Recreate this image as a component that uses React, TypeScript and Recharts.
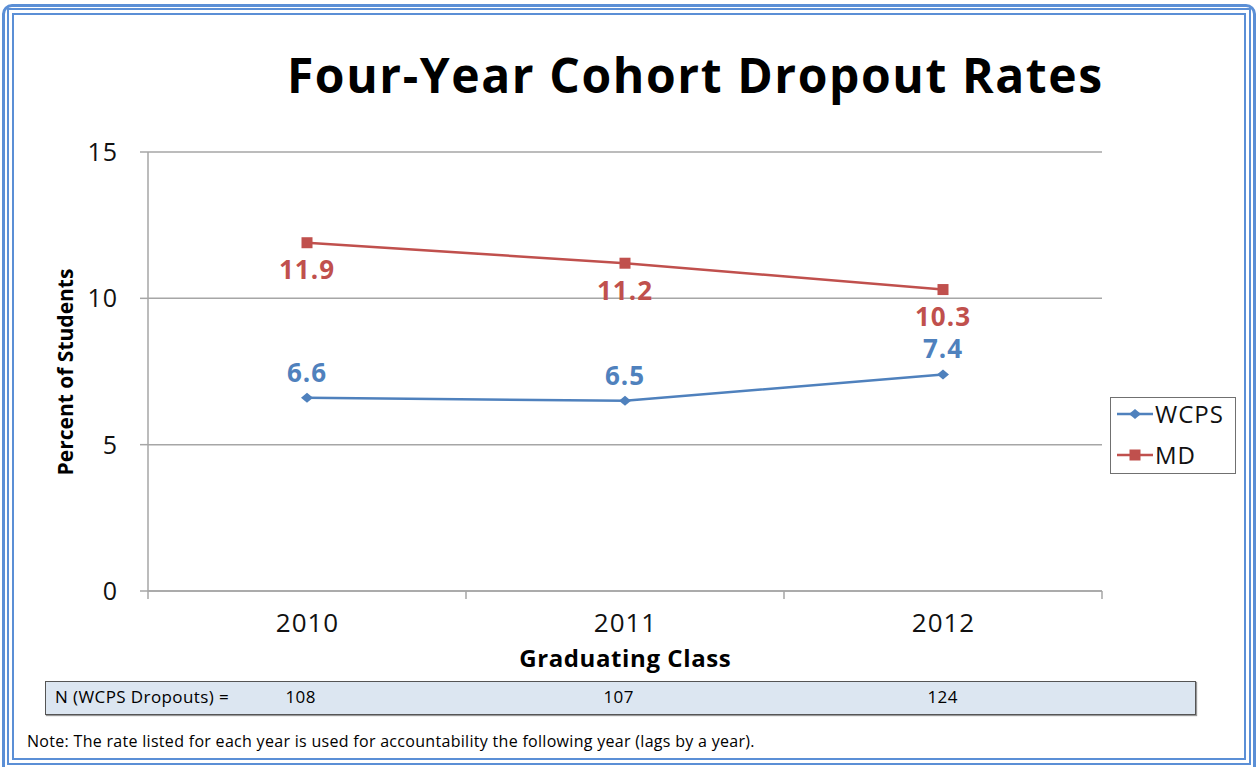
import React from 'react';
import { LineChart, Line, XAxis, YAxis, CartesianGrid, LabelList, Legend, Label } from 'recharts';

const categories = ['2010', '2011', '2012'];
const wcpsRates = [6.6, 6.5, 7.4];
const mdRates = [11.9, 11.2, 10.3];
const yTicks = [0, 5, 10, 15];
const dropoutCounts = [108, 107, 124];
const seriesNames = ['WCPS', 'MD'];

const data = categories.map((c, i) => ({ year: c, WCPS: wcpsRates[i], MD: mdRates[i] }));

const W = 1257;
const H = 767;
const PLOT_L = 148;
const PLOT_R = 1102;
const PLOT_T = 152;
const PLOT_B = 591;
const YAXIS_W = 60;
const XAXIS_H = 30;
const BLUE = '#4F81BD';
const RED = '#C0504D';
const GRID = '#A6A6A6';
const FRAME = '#5B8FD6';
const FONT = '"Open Sans", Lato, sans-serif';
const HALF_BAND = (PLOT_R - PLOT_L) / categories.length / 2;
const COLORS: Record<string, string> = { WCPS: BLUE, MD: RED };

const XTick = (props: any) => {
  const { x, payload, index } = props;
  return (
    <g>
      {index === 0 && (
        <line x1={x - HALF_BAND} x2={x - HALF_BAND} y1={PLOT_B} y2={PLOT_B + 8} stroke={GRID} strokeWidth={1.5} />
      )}
      <line x1={x + HALF_BAND} x2={x + HALF_BAND} y1={PLOT_B} y2={PLOT_B + 8} stroke={GRID} strokeWidth={1.5} />
      <text x={x + 0.5} y={PLOT_B + 41} textAnchor="middle" fontSize={26} letterSpacing={1} fontFamily={FONT} fill="#111">
        {payload.value}
      </text>
    </g>
  );
};

const Diamond = (p: any) => {
  const { cx, cy } = p;
  return <path d={`M${cx - 6},${cy} L${cx},${cy - 5} L${cx + 6},${cy} L${cx},${cy + 5} Z`} fill={BLUE} />;
};
const Square = (p: any) => {
  const { cx, cy } = p;
  return <rect x={cx - 5.5} y={cy - 5.5} width={11} height={11} fill={RED} />;
};

const LegendBox = () => (
  <div
    style={{
      position: 'relative',
      width: 126,
      height: 77,
      border: '1.5px solid #707070',
      background: '#fff',
      boxSizing: 'border-box',
      fontFamily: FONT,
    }}
  >
    {seriesNames.map((name, i) => (
      <div
        key={name}
        style={{ position: 'absolute', left: 6, top: i === 0 ? 0.5 : 41.5, display: 'flex', alignItems: 'center', height: 30 }}
      >
        <svg width={36} height={14} style={{ flex: 'none' }}>
          <line x1={0} x2={36} y1={7} y2={7} stroke={COLORS[name]} strokeWidth={2.5} />
          {name === 'WCPS' ? (
            <path d="M12,7 L18,2 L24,7 L18,12 Z" fill={BLUE} />
          ) : (
            <rect x={12.5} y={1.5} width={11} height={11} fill={RED} />
          )}
        </svg>
        <span style={{ fontSize: 24, letterSpacing: 1, marginLeft: 2, color: '#111', lineHeight: '30px' }}>{name}</span>
      </div>
    ))}
  </div>
);

export default function App() {
  return (
    <div style={{ position: 'absolute', left: 0, top: 0, width: W, height: H, background: '#fff', overflow: 'hidden', fontFamily: FONT }}>
      {/* frame */}
      <div style={{ position: 'absolute', left: 2, top: 4, width: 1254, height: H + 10, border: `3px solid ${FRAME}`, borderRadius: 10, boxSizing: 'border-box' }} />
      <div style={{ position: 'absolute', left: 7, top: 8, width: 1244, height: 757, border: `7px double ${FRAME}`, boxSizing: 'border-box' }} />

      {/* title */}
      <div style={{ position: 'absolute', left: 0, width: 1389, top: 44.5, paddingLeft: 1.6, boxSizing: 'border-box', textAlign: 'center', fontSize: 48, letterSpacing: 1.6, fontWeight: 700, color: '#000', lineHeight: '60px', whiteSpace: 'nowrap' }}>
        Four-Year Cohort Dropout Rates
      </div>

      <div style={{ position: 'absolute', left: 0, top: 0 }}>
        <LineChart
          width={W}
          height={H}
          data={data}
          margin={{ top: PLOT_T, right: W - PLOT_R, bottom: H - PLOT_B - XAXIS_H, left: PLOT_L - YAXIS_W }}
        >
          <CartesianGrid vertical={false} stroke={GRID} strokeWidth={1.5} />
          <YAxis
            width={YAXIS_W}
            domain={[0, 15]}
            ticks={yTicks}
            interval={0}
            axisLine={{ stroke: GRID, strokeWidth: 1.5 }}
            tickLine={{ stroke: GRID, strokeWidth: 1.5 }}
            tickSize={8}
            tickMargin={22}
            tick={{ fontSize: 25, fill: '#111', fontFamily: FONT, letterSpacing: 1 }}
          >
            <Label
              content={() => (
                <text
                  transform={`translate(73,372) rotate(-90)`}
                  textAnchor="middle"
                  fontSize={21}
                  fontWeight={700}
                  fontFamily={FONT}
                  fill="#000"
                >
                  Percent of Students
                </text>
              )}
            />
          </YAxis>
          <XAxis
            dataKey="year"
            height={XAXIS_H}
            interval={0}
            padding={{ left: HALF_BAND, right: HALF_BAND }}
            axisLine={{ stroke: GRID, strokeWidth: 1.5 }}
            tickLine={false}
            tickSize={0}
            tick={<XTick />}
          >
            <Label
              content={() => (
                <text x={625.3} y={667} textAnchor="middle" fontSize={24} letterSpacing={0.6} fontWeight={700} fontFamily={FONT} fill="#000">
                  Graduating Class
                </text>
              )}
            />
          </XAxis>
          <Legend
            layout="horizontal"
            verticalAlign="middle"
            align="center"
            wrapperStyle={{ position: 'absolute', left: 1110, top: 397, width: 126, height: 77 }}
            content={() => <LegendBox />}
          />
          <Line
            dataKey="MD"
            name="MD"
            stroke={RED}
            strokeWidth={2.5}
            isAnimationActive={false}
            dot={(p: any) => <Square key={`md-${p.index}`} {...p} />}
            activeDot={false}
          >
            <LabelList dataKey="MD" position="bottom" offset={18} fill={RED} fontSize={26} letterSpacing={1} fontWeight={700} fontFamily={FONT} />
          </Line>
          <Line
            dataKey="WCPS"
            name="WCPS"
            stroke={BLUE}
            strokeWidth={2.5}
            isAnimationActive={false}
            dot={(p: any) => <Diamond key={`wc-${p.index}`} {...p} />}
            activeDot={false}
          >
            <LabelList dataKey="WCPS" position="top" offset={16} fill={BLUE} fontSize={26} letterSpacing={1} fontWeight={700} fontFamily={FONT} />
          </Line>
        </LineChart>
      </div>

      {/* N table */}
      <div style={{ position: 'absolute', left: 45, top: 681, width: 1151, height: 34, background: '#DCE6F1', border: '1.5px solid #555', boxSizing: 'border-box', boxShadow: '1px 1px 1px #999', fontSize: 17, letterSpacing: 0.4, color: '#000', lineHeight: 'normal' }}>
        <span style={{ position: 'absolute', left: 9, top: 2.5, whiteSpace: 'nowrap' }}>N (WCPS Dropouts) =</span>
        {dropoutCounts.map((n, i) => (
          <span key={i} style={{ position: 'absolute', left: [239.5, 557.5, 881.5][i], top: 2.5 }}>{n}</span>
        ))}
      </div>

      {/* note */}
      <div style={{ position: 'absolute', left: 27, top: 730, fontSize: 16, letterSpacing: 0.3, color: '#000', whiteSpace: 'nowrap', lineHeight: 'normal' }}>
        Note: The rate listed for each year is used for accountability the following year (lags by a year).
      </div>
    </div>
  );
}
